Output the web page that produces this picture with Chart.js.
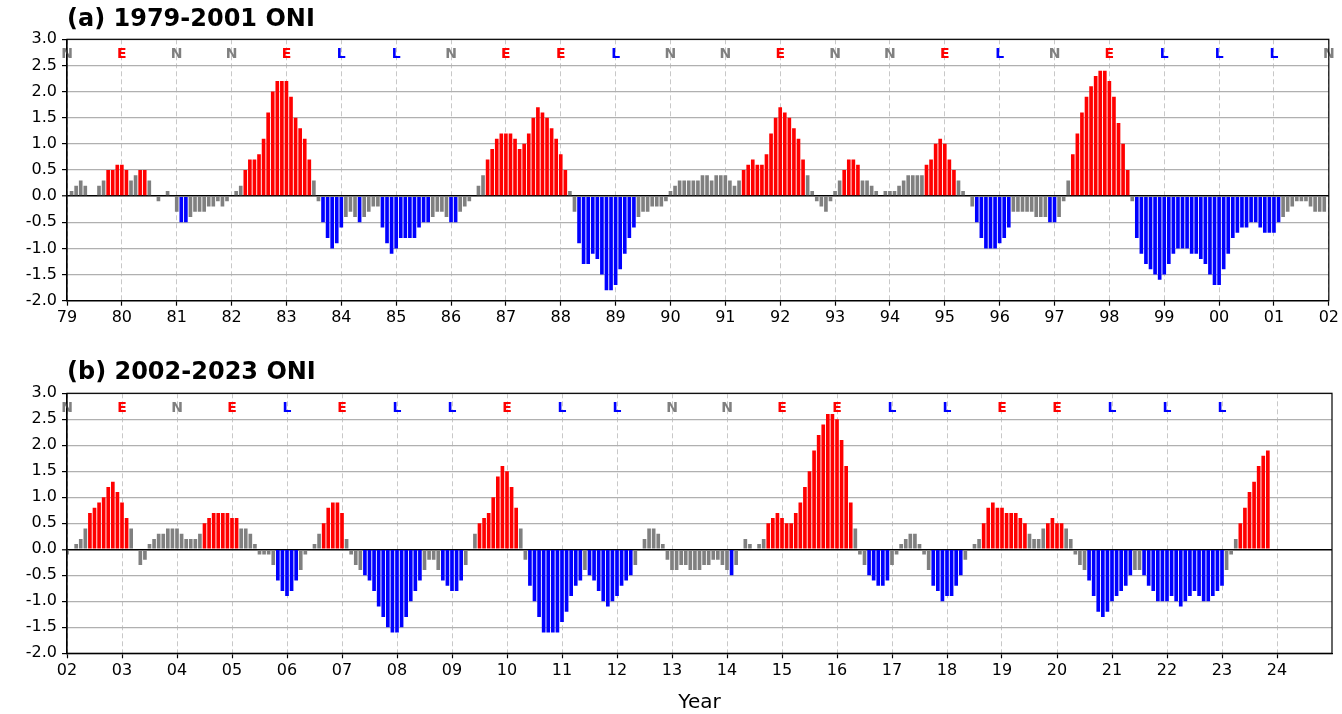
<!DOCTYPE html>
<html>
<head>
<meta charset="utf-8">
<title>ONI 1979-2023</title>
<script src="https://cdn.jsdelivr.net/npm/chart.js@4.4.1/dist/chart.umd.min.js"></script>
<style>
    body { margin: 0; background: #ffffff; }
    canvas { position: absolute; left: 0; }
    #chartA { top: 0; }
    #chartB { top: 340px; }
</style>
</head>
<body>
<canvas id="chartA" width="1342" height="340"></canvas>
<canvas id="chartB" width="1342" height="374"></canvas>
<script>
// Monthly ONI (DJF, JFM, ... NDJ), one row per year
const startA = 1979;
const oniA = [
    0.0, 0.1, 0.2, 0.3, 0.2, 0.0, 0.0, 0.2, 0.3, 0.5, 0.5, 0.6,        // 1979
    0.6, 0.5, 0.3, 0.4, 0.5, 0.5, 0.3, 0.0, -0.1, 0.0, 0.1, 0.0,       // 1980
    -0.3, -0.5, -0.5, -0.4, -0.3, -0.3, -0.3, -0.2, -0.2, -0.1, -0.2, -0.1, // 1981
    0.0, 0.1, 0.2, 0.5, 0.7, 0.7, 0.8, 1.1, 1.6, 2.0, 2.2, 2.2,        // 1982
    2.2, 1.9, 1.5, 1.3, 1.1, 0.7, 0.3, -0.1, -0.5, -0.8, -1.0, -0.9,   // 1983
    -0.6, -0.4, -0.3, -0.4, -0.5, -0.4, -0.3, -0.2, -0.2, -0.6, -0.9, -1.1, // 1984
    -1.0, -0.8, -0.8, -0.8, -0.8, -0.6, -0.5, -0.5, -0.4, -0.3, -0.3, -0.4, // 1985
    -0.5, -0.5, -0.3, -0.2, -0.1, 0.0, 0.2, 0.4, 0.7, 0.9, 1.1, 1.2,   // 1986
    1.2, 1.2, 1.1, 0.9, 1.0, 1.2, 1.5, 1.7, 1.6, 1.5, 1.3, 1.1,        // 1987
    0.8, 0.5, 0.1, -0.3, -0.9, -1.3, -1.3, -1.1, -1.2, -1.5, -1.8, -1.8, // 1988
    -1.7, -1.4, -1.1, -0.8, -0.6, -0.4, -0.3, -0.3, -0.2, -0.2, -0.2, -0.1, // 1989
    0.1, 0.2, 0.3, 0.3, 0.3, 0.3, 0.3, 0.4, 0.4, 0.3, 0.4, 0.4,        // 1990
    0.4, 0.3, 0.2, 0.3, 0.5, 0.6, 0.7, 0.6, 0.6, 0.8, 1.2, 1.5,        // 1991
    1.7, 1.6, 1.5, 1.3, 1.1, 0.7, 0.4, 0.1, -0.1, -0.2, -0.3, -0.1,    // 1992
    0.1, 0.3, 0.5, 0.7, 0.7, 0.6, 0.3, 0.3, 0.2, 0.1, 0.0, 0.1,        // 1993
    0.1, 0.1, 0.2, 0.3, 0.4, 0.4, 0.4, 0.4, 0.6, 0.7, 1.0, 1.1,        // 1994
    1.0, 0.7, 0.5, 0.3, 0.1, 0.0, -0.2, -0.5, -0.8, -1.0, -1.0, -1.0,  // 1995
    -0.9, -0.8, -0.6, -0.3, -0.3, -0.3, -0.3, -0.3, -0.4, -0.4, -0.4, -0.5, // 1996
    -0.5, -0.4, -0.1, 0.3, 0.8, 1.2, 1.6, 1.9, 2.1, 2.3, 2.4, 2.4,     // 1997
    2.2, 1.9, 1.4, 1.0, 0.5, -0.1, -0.8, -1.1, -1.3, -1.4, -1.5, -1.6, // 1998
    -1.5, -1.3, -1.1, -1.0, -1.0, -1.0, -1.1, -1.1, -1.2, -1.3, -1.5, -1.7, // 1999
    -1.7, -1.4, -1.1, -0.8, -0.7, -0.6, -0.6, -0.5, -0.5, -0.6, -0.7, -0.7, // 2000
    -0.7, -0.5, -0.4, -0.3, -0.2, -0.1, -0.1, -0.1, -0.2, -0.3, -0.3, -0.3  // 2001
];

const startB = 2002;
const oniB = [
    -0.1, 0.0, 0.1, 0.2, 0.4, 0.7, 0.8, 0.9, 1.0, 1.2, 1.3, 1.1,       // 2002
    0.9, 0.6, 0.4, 0.0, -0.3, -0.2, 0.1, 0.2, 0.3, 0.3, 0.4, 0.4,      // 2003
    0.4, 0.3, 0.2, 0.2, 0.2, 0.3, 0.5, 0.6, 0.7, 0.7, 0.7, 0.7,        // 2004
    0.6, 0.6, 0.4, 0.4, 0.3, 0.1, -0.1, -0.1, -0.1, -0.3, -0.6, -0.8,  // 2005
    -0.9, -0.8, -0.6, -0.4, -0.1, 0.0, 0.1, 0.3, 0.5, 0.8, 0.9, 0.9,   // 2006
    0.7, 0.2, -0.1, -0.3, -0.4, -0.5, -0.6, -0.8, -1.1, -1.3, -1.5, -1.6, // 2007
    -1.6, -1.5, -1.3, -1.0, -0.8, -0.6, -0.4, -0.2, -0.2, -0.4, -0.6, -0.7, // 2008
    -0.8, -0.8, -0.6, -0.3, 0.0, 0.3, 0.5, 0.6, 0.7, 1.0, 1.4, 1.6,    // 2009
    1.5, 1.2, 0.8, 0.4, -0.2, -0.7, -1.0, -1.3, -1.6, -1.6, -1.6, -1.6, // 2010
    -1.4, -1.2, -0.9, -0.7, -0.6, -0.4, -0.5, -0.6, -0.8, -1.0, -1.1, -1.0, // 2011
    -0.9, -0.7, -0.6, -0.5, -0.3, 0.0, 0.2, 0.4, 0.4, 0.3, 0.1, -0.2,  // 2012
    -0.4, -0.4, -0.3, -0.3, -0.4, -0.4, -0.4, -0.3, -0.3, -0.2, -0.2, -0.3, // 2013
    -0.4, -0.5, -0.3, 0.0, 0.2, 0.1, 0.0, 0.1, 0.2, 0.5, 0.6, 0.7,     // 2014
    0.6, 0.5, 0.5, 0.7, 0.9, 1.2, 1.5, 1.9, 2.2, 2.4, 2.6, 2.6,        // 2015
    2.5, 2.1, 1.6, 0.9, 0.4, -0.1, -0.3, -0.5, -0.6, -0.7, -0.7, -0.6, // 2016
    -0.3, -0.1, 0.1, 0.2, 0.3, 0.3, 0.1, -0.1, -0.4, -0.7, -0.8, -1.0, // 2017
    -0.9, -0.9, -0.7, -0.5, -0.2, 0.0, 0.1, 0.2, 0.5, 0.8, 0.9, 0.8,   // 2018
    0.8, 0.7, 0.7, 0.7, 0.6, 0.5, 0.3, 0.2, 0.2, 0.4, 0.5, 0.6,        // 2019
    0.5, 0.5, 0.4, 0.2, -0.1, -0.3, -0.4, -0.6, -0.9, -1.2, -1.3, -1.2, // 2020
    -1.0, -0.9, -0.8, -0.7, -0.5, -0.4, -0.4, -0.5, -0.7, -0.8, -1.0, -1.0, // 2021
    -1.0, -0.9, -1.0, -1.1, -1.0, -0.9, -0.8, -0.9, -1.0, -1.0, -0.9, -0.8, // 2022
    -0.7, -0.4, -0.1, 0.2, 0.5, 0.8, 1.1, 1.3, 1.6, 1.8, 1.9           // 2023
];

// Phase letter written above each year tick
const phaseA = ['N', 'E', 'N', 'N', 'E', 'L', 'L', 'N', 'E', 'E', 'L', 'N',
                'N', 'E', 'N', 'N', 'E', 'L', 'N', 'E', 'L', 'L', 'L', 'N'];   // 1979..2002
const phaseB = ['N', 'E', 'N', 'E', 'L', 'E', 'L', 'L', 'E', 'L', 'L',
                'N', 'N', 'E', 'E', 'L', 'L', 'E', 'E', 'L', 'L', 'L'];        // 2002..2023

const FONT = 'DejaVu Sans';
const phaseColors = { E: '#ff0000', L: '#0000ff', N: '#808080' };

function barColor(v) {
    if (v >= 0.5) return '#ff0000';
    if (v <= -0.5) return '#0000ff';
    return '#808080';
}

// frame around the plot + phase letters
const framePlugin = {
    id: 'oniFrame',
    afterDatasetsDraw(chart, args, opts) {
        const ctx = chart.ctx;
        const x = chart.scales.x;
        const y = chart.scales.y;
        ctx.save();
        ctx.font = 'bold 14px "' + FONT + '"';
        ctx.textAlign = 'center';
        ctx.textBaseline = 'middle';
        opts.phases.forEach((p, i) => {
            ctx.fillStyle = phaseColors[p];
            ctx.fillText(p, x.getPixelForValue(opts.start + i), y.getPixelForValue(2.72));
        });
        ctx.restore();
    },
    afterDraw(chart) {
        const a = chart.chartArea;
        const ctx = chart.ctx;
        ctx.save();
        ctx.strokeStyle = '#000';
        ctx.lineWidth = 1.2;
        ctx.strokeRect(a.left, a.top, a.right - a.left, a.bottom - a.top);
        ctx.restore();
    }
};

function makeChart(canvasId, cfg) {
    const points = cfg.values.map((v, i) => ({ x: cfg.start + i / 12, y: v }));

    return new Chart(document.getElementById(canvasId), {
        type: 'bar',
        data: {
            datasets: [{
                data: points,
                backgroundColor: cfg.values.map(barColor),
                borderWidth: 0,
                barPercentage: 0.8,
                categoryPercentage: 1.0
            }]
        },
        options: {
            responsive: false,
            animation: false,
            events: [],
            layout: { padding: { left: 0, right: 10, top: 0, bottom: 0 } },
            plugins: {
                legend: { display: false },
                tooltip: { enabled: false },
                title: {
                    display: true,
                    text: cfg.title,
                    align: 'start',
                    fullSize: false,
                    color: '#000',
                    font: { family: FONT, size: 24, weight: 'bold', lineHeight: 1 },
                    padding: cfg.titlePadding
                },
                oniFrame: { phases: cfg.phases, start: cfg.start }
            },
            scales: {
                x: {
                    type: 'linear',
                    min: cfg.xMin,
                    max: cfg.xMax,
                    offset: false,
                    afterBuildTicks: (scale) => {
                        scale.ticks = scale.ticks.filter(t => t.value <= cfg.lastTick);
                    },
                    afterFit: (scale) => { scale.height = cfg.xAxisHeight; },
                    ticks: {
                        stepSize: 1,
                        autoSkip: false,
                        maxRotation: 0,
                        padding: 3,
                        color: '#000',
                        font: { family: FONT, size: 16 },
                        callback: (v) => String(v % 100).padStart(2, '0')
                    },
                    grid: {
                        color: '#c8c8c8',
                        lineWidth: 1,
                        offset: false,
                        tickColor: '#000',
                        tickWidth: 1.2,
                        tickLength: 5,
                        tickBorderDash: []
                    },
                    border: { color: '#000', width: 1.2, dash: [5, 3] },
                    title: {
                        display: !!cfg.xTitle,
                        text: cfg.xTitle || '',
                        color: '#000',
                        font: { family: FONT, size: 20, lineHeight: 1.1 },
                        padding: { top: 0, bottom: 0 }
                    }
                },
                y: {
                    min: -2,
                    max: 3,
                    afterFit: (scale) => { scale.width = 67; },
                    ticks: {
                        stepSize: 0.5,
                        padding: 5,
                        color: '#000',
                        font: { family: FONT, size: 16 },
                        callback: (v) => v.toFixed(1)
                    },
                    grid: {
                        color: (c) => (c.tick && c.tick.value === 0) ? '#000000' : '#b0b0b0',
                        lineWidth: (c) => (c.tick && c.tick.value === 0) ? 1.6 : 1.2,
                        tickColor: '#000',
                        tickWidth: 1.2,
                        tickLength: 5
                    },
                    border: { color: '#000', width: 1.2 }
                }
            }
        },
        plugins: [framePlugin]
    });
}

makeChart('chartA', {
    title: '(a) 1979-2001 ONI',
    values: oniA,
    start: startA,
    phases: phaseA,
    xMin: 1979,
    xMax: 2002,
    lastTick: 2002,
    xAxisHeight: 39.3,
    titlePadding: { top: 8, bottom: 7.3 }
});

makeChart('chartB', {
    title: '(b) 2002-2023 ONI',
    values: oniB,
    start: startB,
    phases: phaseB,
    xMin: 2002,
    xMax: 2025,
    lastTick: 2024,
    xAxisHeight: 60.7,
    xTitle: 'Year',
    titlePadding: { top: 21, bottom: 8.3 }
});
</script>
</body>
</html>
